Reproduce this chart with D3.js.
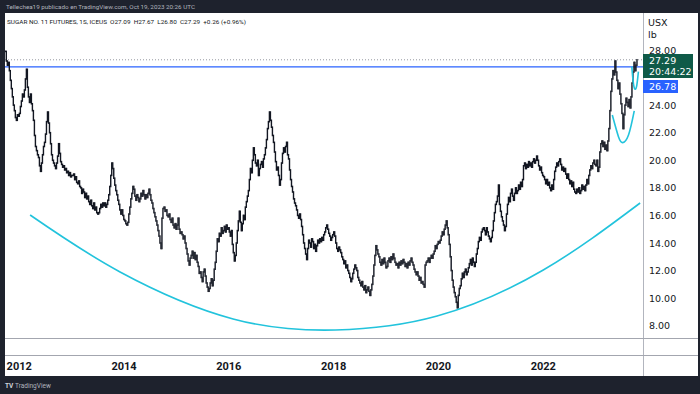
<!DOCTYPE html>
<html>
<head>
<meta charset="utf-8">
<script src="https://cdn.jsdelivr.net/npm/d3@7"></script>
<style>
  body { margin: 0; background: #1e222d; }
  svg { display: block; font-family: Roboto, "Liberation Sans", sans-serif; }
</style>
</head>
<body>
<div id="chart"></div>
<script>
// weekly closes (USX/lb), one array per calendar year
const closes2011 = [27.9, 27.2, 26.9, 27.1, 26.5, 25.8, 25.2, 24.6, 24.0, 23.6, 23.1, 22.9, 23.3, 23.2];
const closes2012 = [23.4, 23.9, 24.3, 24.8, 24.6, 25.1, 25.9, 26.6, 25.3, 24.6,
  24.2, 24.8, 24.1, 23.6, 22.9, 21.8, 21.0, 20.7, 20.4, 20.2,
  19.6, 19.2, 19.8, 20.4, 21.0, 21.3, 21.9, 22.8, 23.5, 22.7,
  22.0, 21.2, 20.4, 20.0, 19.8, 19.6, 19.4, 19.8, 20.3, 21.2,
  20.5, 19.9, 19.7, 19.5, 19.6, 19.3, 19.4, 19.1, 19.2, 18.9,
  19.1, 18.8, 18.9];
const closes2013 = [18.9, 19.0, 18.6, 18.8, 18.4, 18.3, 18.5, 18.1, 18.0, 17.6,
  17.9, 17.7, 17.3, 17.6, 17.2, 17.4, 17.0, 16.8, 17.1, 16.7,
  16.5, 16.9, 16.4, 16.6, 16.2, 16.1, 16.2, 16.5, 16.8, 16.6,
  16.9, 16.7, 16.9, 16.6, 16.8, 17.1, 17.5, 18.1, 18.9, 19.8,
  19.4, 18.7, 18.2, 17.8, 17.5, 17.1, 16.8, 16.4, 16.1, 16.4,
  16.0, 15.7];
const closes2014 = [15.6, 15.4, 15.3, 15.5, 16.1, 16.6, 17.2, 17.6, 18.1, 17.9,
  17.4, 17.1, 17.5, 17.3, 17.0, 17.2, 17.6, 17.4, 17.8, 17.5,
  17.2, 17.5, 17.3, 17.6, 17.9, 17.5, 17.1, 16.9, 16.5, 16.2,
  15.9, 15.6, 15.3, 14.9, 14.5, 14.0, 13.6, 15.8, 16.5, 16.6,
  16.3, 16.4, 16.0, 15.9, 16.1, 15.7, 15.5, 15.8, 15.3, 15.1,
  15.4, 15.0];
const closes2015 = [15.3, 15.8, 15.0, 14.7, 14.8, 14.6, 14.3, 14.5, 14.0, 13.6,
  13.2, 12.7, 12.4, 12.9, 13.1, 13.4, 12.9, 13.3, 12.8, 13.1,
  12.6, 12.3, 11.8, 11.9, 11.5, 11.2, 11.9, 12.1, 11.6, 11.1,
  10.8, 10.5, 10.7, 11.1, 11.4, 10.9, 11.3, 12.1, 12.6, 13.4,
  14.3, 14.1, 14.7, 14.5, 15.1, 14.7, 14.9, 15.2, 14.8, 15.3,
  15.0, 15.1];
const closes2016 = [14.8, 14.5, 14.9, 13.9, 13.3, 12.7, 13.1, 14.0, 14.9, 15.6,
  16.3, 15.5, 14.9, 15.4, 16.0, 15.7, 16.6, 17.0, 17.4, 17.8,
  18.6, 19.4, 19.1, 20.0, 20.9, 20.4, 19.8, 19.6, 20.0, 18.9,
  19.4, 19.7, 19.9, 19.5, 20.1, 20.4, 20.9, 21.5, 22.3, 22.8,
  23.5, 22.9, 22.4, 21.8, 21.3, 20.6, 19.9, 19.3, 19.5, 18.9,
  18.2, 18.6];
const closes2017 = [19.8, 20.5, 20.9, 20.6, 21.0, 21.3, 20.4, 20.1, 19.3, 18.6,
  18.1, 17.7, 17.2, 16.9, 16.7, 16.4, 16.0, 15.8, 16.1, 15.7,
  15.2, 14.6, 14.0, 13.6, 13.2, 12.8, 13.6, 14.2, 14.0, 13.7,
  14.3, 14.1, 13.6, 13.9, 13.4, 13.8, 14.2, 14.0, 14.3, 14.1,
  14.4, 14.2, 14.6, 14.8, 15.1, 15.3, 15.0, 14.7, 14.5, 14.2,
  14.4, 14.6];
const closes2018 = [14.8, 14.5, 14.0, 13.6, 13.4, 13.7, 13.5, 13.3, 13.0, 12.8,
  12.5, 12.7, 12.2, 12.4, 12.0, 11.8, 11.5, 11.2, 11.4, 11.8,
  12.1, 12.4, 12.2, 12.0, 11.5, 11.3, 11.1, 10.9, 11.2, 10.8,
  10.6, 10.9, 10.4, 10.6, 10.8, 10.5, 10.2, 10.6, 11.0, 11.6,
  12.4, 13.1, 13.8, 13.5, 13.2, 13.0, 12.6, 12.4, 12.8, 12.5,
  12.9, 12.6, 12.2];
const closes2019 = [12.3, 12.7, 12.9, 12.6, 13.0, 12.8, 13.2, 12.9, 12.6, 12.4,
  12.5, 12.2, 12.6, 12.4, 12.7, 12.5, 12.8, 12.6, 12.3, 12.5,
  12.2, 12.6, 12.4, 12.7, 12.9, 12.6, 12.4, 12.1, 11.9, 11.7,
  11.9, 11.6, 11.3, 11.5, 11.1, 11.2, 11.0, 10.8, 12.4, 12.6,
  12.7, 12.9, 12.6, 12.9, 13.1, 12.9, 13.2, 13.4, 13.8, 13.6,
  13.9, 14.1];
const closes2020 = [14.0, 14.2, 14.5, 14.8, 14.6, 15.0, 15.3, 15.6, 15.1, 14.6,
  13.9, 13.0, 12.0, 11.3, 10.8, 10.4, 10.1, 9.7, 9.3, 10.2,
  10.7, 10.9, 11.4, 11.8, 11.5, 11.9, 12.1, 11.7, 11.9, 12.2,
  12.5, 12.8, 12.4, 12.9, 12.6, 12.3, 12.6, 13.2, 13.6, 14.1,
  14.4, 14.2, 14.8, 15.0, 15.1, 14.9, 14.6, 15.1, 14.8, 14.5,
  14.3, 14.1];
const closes2021 = [14.4, 14.9, 15.6, 16.2, 16.8, 17.0, 17.4, 18.2, 16.8, 16.3,
  15.9, 15.6, 15.3, 14.9, 15.2, 16.1, 16.8, 17.3, 17.0, 17.6,
  17.9, 17.4, 17.1, 17.6, 18.0, 17.6, 17.8, 18.2, 17.9, 18.4,
  18.1, 18.6, 19.6, 19.8, 19.4, 19.7, 19.5, 19.9, 19.6, 19.8,
  19.5, 19.9, 20.1, 19.8, 20.0, 20.3, 20.0, 19.6, 19.3, 19.5,
  19.1, 18.9];
const closes2022 = [18.8, 18.6, 18.3, 18.6, 18.2, 18.4, 18.0, 17.8, 18.2, 17.9,
  18.6, 19.2, 19.5, 19.8, 19.6, 19.9, 20.1, 19.7, 19.3, 19.5,
  19.2, 19.4, 19.0, 18.7, 19.0, 18.6, 18.3, 18.5, 18.1, 18.4,
  17.9, 17.7, 17.6, 17.9, 17.7, 18.0, 17.6, 17.8, 18.2, 17.9,
  18.1, 17.8, 18.2, 18.6, 18.3, 18.9, 19.3, 19.6, 19.4, 19.8,
  20.0, 19.7];
const closes2023 = [19.6, 20.0, 19.2, 19.5, 20.6, 21.2, 21.4, 21.0, 21.3, 20.8,
  21.1, 20.7, 21.4, 22.3, 23.6, 25.0, 25.9, 26.5, 26.2, 27.2,
  26.4, 25.8, 25.2, 25.6, 24.8, 24.1, 23.4, 22.3, 23.3, 24.0,
  24.5, 24.2, 23.9, 24.4, 23.8, 24.6, 25.6, 26.4, 27.1, 26.5,
  26.9, 27.29];

const priceTicks = [28, 24, 22, 20, 18, 16, 14, 12, 10, 8];
const yearTicks = [2012, 2014, 2016, 2018, 2020, 2022];
const lastClose = 27.29;
const hLineLevel = 26.78;

// hand drawn cyan arcs
const bigArc = [["2012-03-17", 16.03], ["2013-12-04", 11.90], ["2016-01-31", 8.49],
  ["2018-01-12", 7.69], ["2019-12-23", 8.70], ["2022-01-01", 12.04], ["2023-11-07", 16.90]];
const midArc = [["2023-04-27", 23.28], ["2023-06-09", 21.71], ["2023-07-09", 21.28],
  ["2023-08-18", 21.83], ["2023-09-27", 23.58]];
const smallArc = [["2023-09-10", 26.79], ["2023-09-21", 25.58], ["2023-10-03", 25.15],
  ["2023-10-15", 25.46], ["2023-10-26", 26.43]];

const width = 700, height = 394;
const plotLeft = 5, plotRight = 643, axisRight = 698;
const axisFont = "'DejaVu Sans', sans-serif";
const parse = d3.timeParse("%Y-%m-%d");

const years = [
  [closes2011, parse("2011-09-26")],
  [closes2012, null], [closes2013, null], [closes2014, null], [closes2015, null],
  [closes2016, null], [closes2017, null], [closes2018, null], [closes2019, null],
  [closes2020, null], [closes2021, null], [closes2022, null], [closes2023, null]
];

let bars = [];
let prev = null;
years.forEach(function (yr, k) {
  let start = yr[1] || d3.timeMonday.ceil(new Date(2011 + k, 0, 1));
  yr[0].forEach(function (c, i) {
    let o = prev === null ? c : prev;
    bars.push({date: d3.timeMonday.offset(start, i), open: o, close: c});
    prev = c;
  });
});

let svg = d3.select("#chart").append("svg")
  .attr("width", width)
  .attr("height", height);

// white chart panel
svg.append("rect")
  .attr("x", plotLeft).attr("y", 13)
  .attr("width", axisRight - plotLeft).attr("height", 376 - 13)
  .attr("fill", "#ffffff");

let x = d3.scaleTime()
  .domain([parse("2011-09-24"), parse("2023-11-27")])
  .range([plotLeft, plotRight]);
let y = d3.scaleLinear()
  .domain([8, 28])
  .range([325.7, 50]);

svg.append("clipPath").attr("id", "plot-clip")
  .append("rect").attr("x", plotLeft).attr("y", 13)
  .attr("width", plotRight - plotLeft).attr("height", 338 - 13);

let plot = svg.append("g").attr("clip-path", "url(#plot-clip)");

// last price dotted line and the blue horizontal line
plot.append("line")
  .attr("x1", plotLeft).attr("x2", plotRight)
  .attr("y1", y(lastClose)).attr("y2", y(lastClose))
  .attr("stroke", "#9598a1").attr("stroke-width", 1)
  .attr("stroke-dasharray", "1,2");
plot.append("line")
  .attr("x1", plotLeft).attr("x2", plotRight)
  .attr("y1", y(hLineLevel)).attr("y2", y(hLineLevel))
  .attr("stroke", "#2962ff").attr("stroke-width", 1.2);

// candles
plot.append("g")
  .selectAll("rect")
  .data(bars)
  .enter()
  .append("rect")
  .attr("x", d => x(d.date) - 0.7)
  .attr("width", 1.4)
  .attr("y", d => y(Math.max(d.open, d.close)) - 0.8)
  .attr("height", d => Math.abs(y(d.open) - y(d.close)) + 1.6)
  .attr("fill", "#131722");

// arcs
let arcLine = d3.line()
  .x(d => x(parse(d[0])))
  .y(d => y(d[1]))
  .curve(d3.curveNatural);
[bigArc, midArc, smallArc].forEach(function (a) {
  plot.append("path")
    .attr("d", arcLine(a))
    .attr("fill", "none")
    .attr("stroke", "#22c3dc")
    .attr("stroke-width", 1.6);
});

// frame lines
svg.append("line").attr("x1", plotRight + 0.5).attr("x2", plotRight + 0.5)
  .attr("y1", 13).attr("y2", 376).attr("stroke", "#b2b5be");
[338.5, 355.5].forEach(function (ly) {
  svg.append("line").attr("x1", plotLeft).attr("x2", axisRight)
    .attr("y1", ly).attr("y2", ly).attr("stroke", "#a3a6af");
});

// price axis
let yAxis = d3.axisRight(y)
  .tickValues(priceTicks)
  .tickFormat(d3.format(".2f"))
  .tickSize(0)
  .tickPadding(0);
let yg = svg.append("g")
  .attr("transform", "translate(649,0)")
  .call(yAxis);
yg.select(".domain").remove();
yg.selectAll("text")
  .attr("font-family", axisFont)
  .attr("font-size", 9.5)
  .attr("fill", "#131722");

svg.append("text").attr("x", 648).attr("y", 25.5).text("USX")
  .attr("font-family", axisFont).attr("font-size", 9.5).attr("fill", "#131722");
svg.append("text").attr("x", 648).attr("y", 37.5).text("lb")
  .attr("font-family", axisFont).attr("font-size", 9.5).attr("fill", "#131722");

// price badges
svg.append("rect").attr("x", plotRight).attr("y", 54)
  .attr("width", 50).attr("height", 24).attr("fill", "#0f5a48");
svg.append("text").attr("x", 649).attr("y", 64).text(d3.format(".2f")(lastClose))
  .attr("font-family", axisFont).attr("font-size", 9.5).attr("fill", "#ffffff");
svg.append("text").attr("x", 649).attr("y", 75).text("20:44:22")
  .attr("font-family", axisFont).attr("font-size", 9.5).attr("fill", "#ffffff");
svg.append("rect").attr("x", plotRight).attr("y", 80)
  .attr("width", 35).attr("height", 13).attr("fill", "#2962ff");
svg.append("text").attr("x", 649).attr("y", 90).text(d3.format(".2f")(hLineLevel))
  .attr("font-family", axisFont).attr("font-size", 9.5).attr("fill", "#ffffff");

// time axis
svg.append("g")
  .selectAll("text")
  .data(yearTicks)
  .enter()
  .append("text")
  .attr("x", d => x(new Date(d, 0, 1)))
  .attr("y", 370)
  .attr("text-anchor", "middle")
  .attr("font-size", 11)
  .attr("font-weight", "bold")
  .attr("fill", "#131722")
  .text(d => d);

// header and footer text
svg.append("text").attr("x", 6).attr("y", 9)
  .text("Tellechea19 publicado en TradingView.com, Oct 19, 2023 20:26 UTC")
  .attr("font-size", 5.8).attr("fill", "#b2b5be")
  .attr("textLength", 189).attr("lengthAdjust", "spacingAndGlyphs");
svg.append("text").attr("x", 7).attr("y", 24)
  .text("SUGAR NO. 11 FUTURES, 1S, ICEUS  O27.09  H27.67  L26.80  C27.29  +0.26 (+0.96%)")
  .attr("font-size", 5.8).attr("fill", "#131722").attr("xml:space", "preserve")
  .attr("textLength", 239).attr("lengthAdjust", "spacingAndGlyphs");
svg.append("text").attr("x", 5).attr("y", 388)
  .text("TV").attr("font-size", 6.5).attr("font-weight", "bold").attr("fill", "#d1d4dc");
svg.append("text").attr("x", 15).attr("y", 388)
  .text("TradingView").attr("font-size", 6.5).attr("fill", "#b2b5be");
</script>
</body>
</html>
